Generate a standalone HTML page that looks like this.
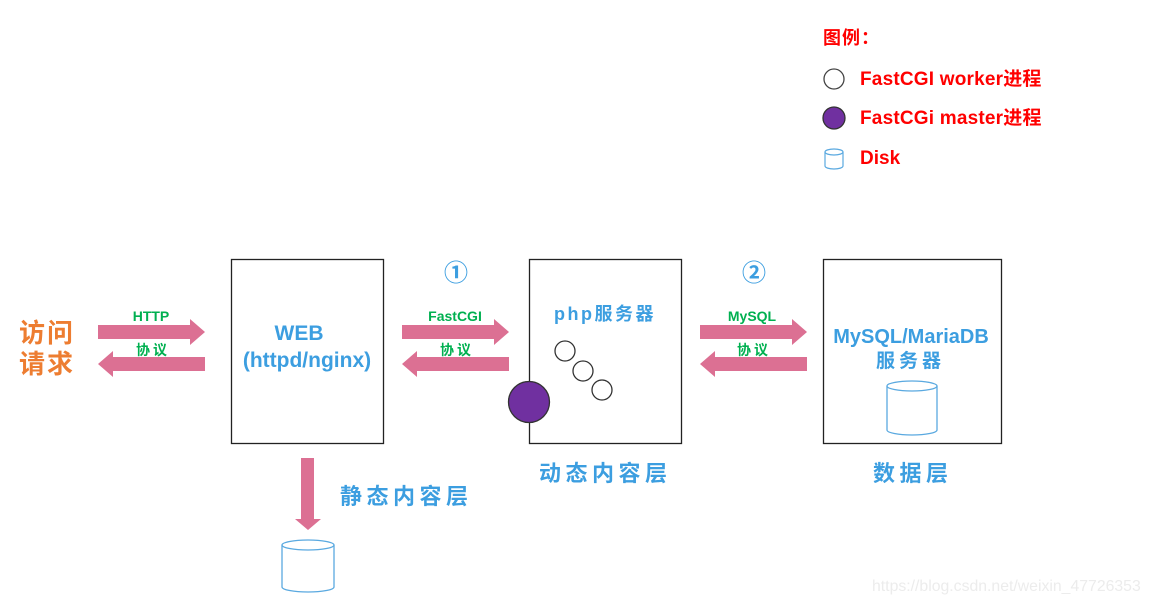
<!DOCTYPE html>
<html><head><meta charset="utf-8"><style>
html,body{margin:0;padding:0;background:#fff;width:1153px;height:604px;overflow:hidden}
svg text{font-family:"Liberation Sans","Noto Sans CJK SC",sans-serif;font-weight:bold}
</style></head><body>
<svg width="1153" height="604" viewBox="0 0 1153 604" xmlns="http://www.w3.org/2000/svg">
<defs>
<g id="ra"><polygon points="0,-7 92,-7 92,-13 107,0 92,13 92,7 0,7" fill="#dc7093"/></g>
<g id="la"><polygon points="107,-7 15,-7 15,-13 0,0 15,13 15,7 107,7" fill="#dc7093"/></g>
</defs>
<text x="823" y="44" font-size="18" fill="#ff0000" letter-spacing="1">图例：</text>
<circle cx="834" cy="79" r="10" fill="#fff" stroke="#444" stroke-width="1.3"/>
<text x="860" y="85" font-size="19" fill="#ff0000" letter-spacing="0.2">FastCGI worker进程</text>
<circle cx="834" cy="118" r="11" fill="#7030a0" stroke="#333" stroke-width="1.3"/>
<text x="860" y="124" font-size="19" fill="#ff0000" letter-spacing="0.2">FastCGi master进程</text>
<path d="M825 152 v14 a9 3 0 0 0 18 0 v-14" fill="none" stroke="#5aa9e0" stroke-width="1.2"/>
<ellipse cx="834" cy="152" rx="9" ry="3" fill="none" stroke="#5aa9e0" stroke-width="1.2"/>
<text x="860" y="164" font-size="19" fill="#ff0000">Disk</text>
<text x="19" y="342" font-size="26" fill="#ed7d31" letter-spacing="2">访问</text>
<text x="19" y="373" font-size="26" fill="#ed7d31" letter-spacing="2">请求</text>
<use href="#ra" x="98" y="332"/>
<use href="#la" x="98" y="364"/>
<text x="151" y="321" font-size="14" fill="#00b050" text-anchor="middle">HTTP</text>
<text x="136" y="355" font-size="14" fill="#00b050" letter-spacing="3">协议</text>
<rect x="231.5" y="259.5" width="152" height="184" fill="#fff" stroke="#222" stroke-width="1.3"/>
<text x="299" y="340" font-size="21" fill="#3c9ee0" text-anchor="middle">WEB</text>
<text x="307" y="367" font-size="21" fill="#3c9ee0" text-anchor="middle">(httpd/nginx)</text>
<text x="456" y="281" font-size="24" fill="#3c9ee0" text-anchor="middle">①</text>
<use href="#ra" x="402" y="332"/>
<use href="#la" x="402" y="364"/>
<text x="455" y="321" font-size="14" fill="#00b050" text-anchor="middle">FastCGI</text>
<text x="440" y="355" font-size="14" fill="#00b050" letter-spacing="3">协议</text>
<rect x="529.5" y="259.5" width="152" height="184" fill="#fff" stroke="#222" stroke-width="1.3"/>
<text x="554" y="320" font-size="18" fill="#3c9ee0" letter-spacing="2.5">php服务器</text>
<circle cx="565" cy="351" r="10" fill="#fff" stroke="#333" stroke-width="1.3"/>
<circle cx="583" cy="371" r="10" fill="#fff" stroke="#333" stroke-width="1.3"/>
<circle cx="602" cy="390" r="10" fill="#fff" stroke="#333" stroke-width="1.3"/>
<circle cx="529" cy="402" r="20.5" fill="#7030a0" stroke="#333" stroke-width="1.3"/>
<text x="539" y="481" font-size="22" fill="#3c9ee0" letter-spacing="4.5">动态内容层</text>
<text x="754" y="281" font-size="24" fill="#3c9ee0" text-anchor="middle">②</text>
<use href="#ra" x="700" y="332"/>
<use href="#la" x="700" y="364"/>
<text x="752" y="321" font-size="14" fill="#00b050" text-anchor="middle">MySQL</text>
<text x="737" y="355" font-size="14" fill="#00b050" letter-spacing="3">协议</text>
<rect x="823.5" y="259.5" width="178" height="184" fill="#fff" stroke="#222" stroke-width="1.3"/>
<text x="911" y="343" font-size="20" fill="#3c9ee0" text-anchor="middle">MySQL/MariaDB</text>
<text x="876" y="367" font-size="19" fill="#3c9ee0" letter-spacing="4">服务器</text>
<path d="M887 386 v44 a25 5 0 0 0 50 0 v-44" fill="none" stroke="#5aa9e0" stroke-width="1.3"/>
<ellipse cx="912" cy="386" rx="25" ry="5" fill="#fff" stroke="#5aa9e0" stroke-width="1.3"/>
<text x="873" y="481" font-size="22" fill="#3c9ee0" letter-spacing="4.5">数据层</text>
<polygon points="301,458 314,458 314,519 321,519 308,530 295,519 301,519" fill="#dc7093"/>
<text x="340" y="504" font-size="22" fill="#3c9ee0" letter-spacing="4.5">静态内容层</text>
<path d="M282 545 v42 a26 5 0 0 0 52 0 v-42" fill="none" stroke="#5aa9e0" stroke-width="1.3"/>
<ellipse cx="308" cy="545" rx="26" ry="5" fill="#fff" stroke="#5aa9e0" stroke-width="1.3"/>
<text x="872" y="591" font-size="15.8" fill="#ececec" style="font-weight:normal">https://blog.csdn.net/weixin_47726353</text>
</svg>
</body></html>
